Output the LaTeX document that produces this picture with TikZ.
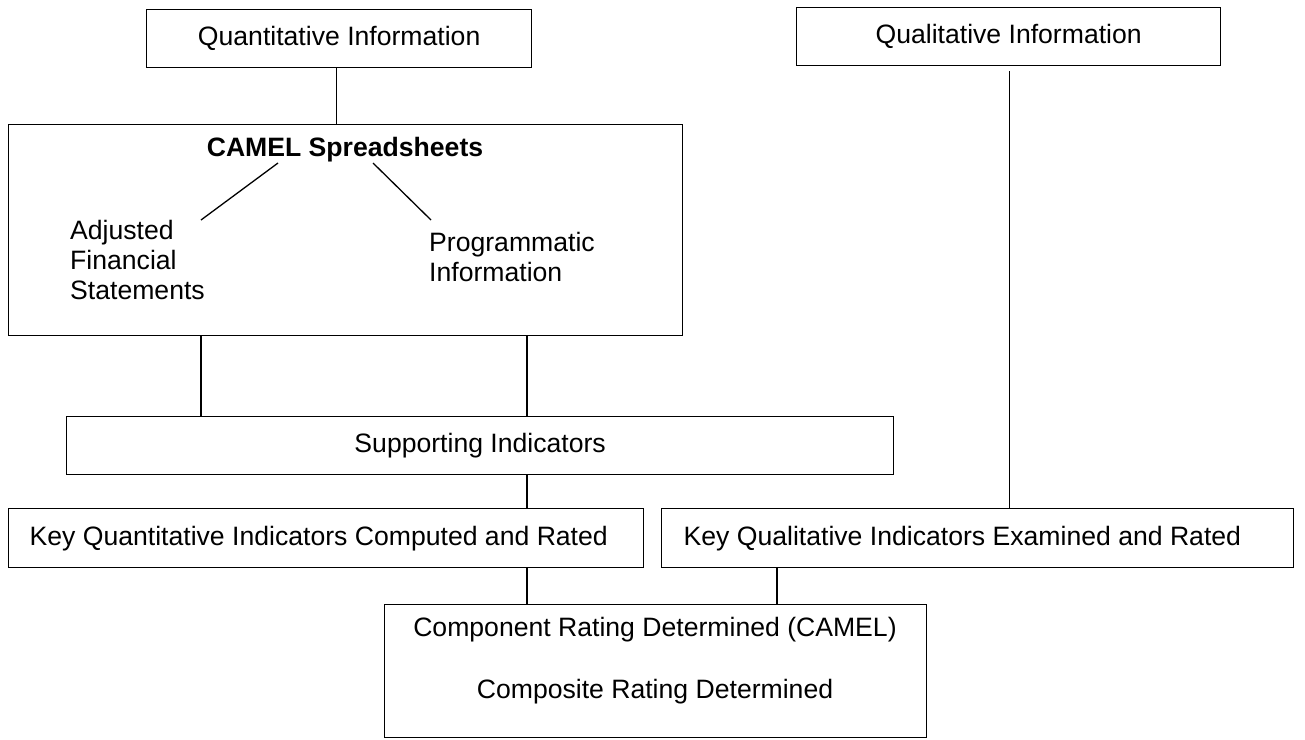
\documentclass[tikz,border=0pt]{standalone}
\usepackage{fontspec}
\setmainfont{Liberation Sans}
\begin{document}
\begin{tikzpicture}[x=1pt,y=-1pt,
  every node/.style={font=\fontsize{26.6}{30}\selectfont},
  box/.style={draw, rectangle, line width=1.3pt, inner sep=0pt, anchor=north west},
  txt/.style={inner sep=0pt},
  conn/.style={line width=1.3pt}]
\useasboundingbox (0,0) rectangle (1305,739);

% top boxes
\node[box, minimum width=385pt, minimum height=58pt] (quant) at (146,9) {Quantitative Information};
\node[box, minimum width=424pt, minimum height=58pt] (qual) at (796,7) {Qualitative Information};

% CAMEL spreadsheets box
\node[box, minimum width=674pt, minimum height=211pt] (camel) at (8,124) {};
\node[txt, font=\fontsize{26.6}{30}\selectfont\bfseries] (ctitle) at (345,150) {CAMEL Spreadsheets};
\node[txt, anchor=north west, align=flush left] (adj) at (70,220) {Adjusted\\Financial\\Statements};
\node[txt, anchor=north west, align=flush left] (prog) at (429,232) {Programmatic\\Information};
\coordinate (d1a) at (278,163);
\coordinate (d1b) at (201,220);
\coordinate (d2a) at (373,163);
\coordinate (d2b) at (431,220);
\draw[conn] (d1a) -- (d1b);
\draw[conn] (d2a) -- (d2b);

% supporting indicators
\node[box, minimum width=827pt, minimum height=58pt] (supp) at (66,416) {Supporting Indicators};

% key indicators
\node[box, minimum height=59pt, text width=593pt, inner xsep=21pt, align=flush left] (kquant) at (8,508) {Key Quantitative Indicators Computed and Rated};
\node[box, minimum height=59pt, text width=588pt, inner xsep=22pt, align=flush left] (kqual) at (661,508) {Key Qualitative Indicators Examined and Rated};

% component rating
\node[box, minimum width=542pt, minimum height=133pt] (comp) at (384,604) {};
\node[txt] (comp1) at (655,630) {Component Rating Determined (CAMEL)};
\node[txt] (comp2) at (655,692) {Composite Rating Determined};

% connectors
\draw[conn] ([xshift=-3pt]quant.south) -- ([xshift=-3pt]quant.south |- camel.north);
\draw[conn] ([xshift=1pt,yshift=-5pt]qual.south) -- ([xshift=1pt]qual.south |- kqual.north);
\draw[conn] ([xshift=193pt]camel.south west) -- ([xshift=193pt]camel.south west |- supp.north);
\draw[conn] ([xshift=519pt]camel.south west) -- ([xshift=519pt]camel.south west |- supp.north);
\draw[conn] ([xshift=461pt]supp.south west) -- ([xshift=461pt]supp.south west |- kquant.north);
\draw[conn] ([xshift=143pt]comp.north west) -- ([xshift=143pt]comp.north west |- kquant.south);
\draw[conn] ([xshift=393pt]comp.north west) -- ([xshift=393pt]comp.north west |- kqual.south);
\end{tikzpicture}
\end{document}
